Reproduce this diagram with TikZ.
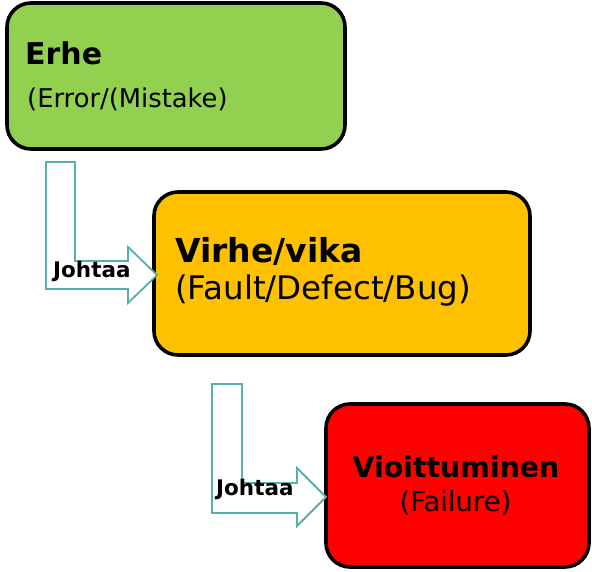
\documentclass[tikz,border=0pt]{standalone}
\usepackage{fontspec}
\setmainfont{DejaVu Sans}
\usepackage{tikz}
\usetikzlibrary{positioning}
\definecolor{errgreen}{RGB}{146,208,80}
\definecolor{faultorange}{RGB}{255,192,0}
\definecolor{failred}{RGB}{255,0,0}
\definecolor{leadteal}{RGB}{88,176,170}
\newcommand{\fsz}[1]{\fontsize{#1}{1.2\dimexpr#1pt\relax}\selectfont}
\tikzset{
  box/.style={draw=black,line width=3.6pt,rounded corners=24pt,inner sep=0pt},
  head/.style={anchor=base west,inner sep=0pt,font=\bfseries},
  sub/.style={anchor=base west,inner sep=0pt},
  jarrow/.style={draw=leadteal,line width=1.8pt,fill=white,line join=miter},
  jlab/.style={anchor=base west,inner sep=0pt,font=\bfseries\fsz{21.5}}
}

\begin{document}
\begin{tikzpicture}[x=1pt,y=-1pt]
    \useasboundingbox (0,0) rectangle (592,572);
    % the three stages
    \node[box,fill=errgreen,minimum width=338pt,minimum height=146pt] (erhe) at (176,76) {};
    \node[box,fill=faultorange,minimum width=376pt,minimum height=163pt] (virhe) at (342,273.5) {};
    \node[box,fill=failred,minimum width=263pt,minimum height=163pt] (vioit) at (457.5,485.5) {};
    \node[head,font=\bfseries\fsz{30}] (erheT) at (25,65) {Erhe};
    \node[sub,font=\fsz{25.8}] (erheS) at (27,108) {(Error/(Mistake)};
    \node[head,font=\bfseries\fsz{33}] (virheT) at (175,263) {Virhe/vika};
    \node[sub,font=\fsz{32.5}] (virheS) at (175,300) {(Fault/Defect/Bug)};
    \node[anchor=base,inner sep=0pt,font=\bfseries\fsz{28.4}] (vioitT) at (456,477) {Vioittuminen};
    \node[anchor=base,inner sep=0pt,font=\fsz{27.5}] (vioitS) at (455.5,511) {(Failure)};
    % bent arrows
    \draw[jarrow] (46,162) -- (75,162) -- (75,261) -- (128,261) -- (128,247) -- (157,275) -- (128,303) -- (128,289) -- (46,289) -- cycle;
    \draw[jarrow] (212,384) -- (242,384) -- (242,483) -- (297,483) -- (297,468) -- (326,497) -- (297,526) -- (297,513) -- (212,513) -- cycle;
    \node[jlab] (lead1) at (53,277) {Johtaa};
    \node[jlab] (lead2) at (216,495) {Johtaa};
\end{tikzpicture}
\end{document}
